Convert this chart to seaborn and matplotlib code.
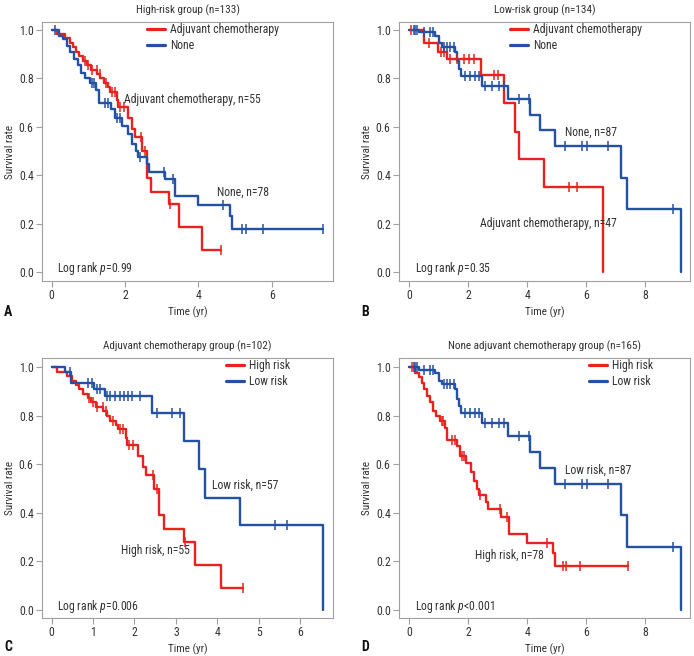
import numpy as np
import pandas as pd
import matplotlib
matplotlib.use("Agg")
import matplotlib.pyplot as plt
from matplotlib.ticker import FormatStrFormatter
import seaborn as sns

# high-risk, adjuvant chemotherapy (also "High risk" in panel C)
hr_adj_t = [0.14, 0.37, 0.50, 0.58, 0.66, 0.75, 0.87, 0.96, 1.07, 1.25, 1.33, 1.42, 1.55, 1.60,
            1.79, 1.81, 2.08, 2.20, 2.28, 2.47, 2.59, 2.72, 3.19, 3.46, 4.10]
hr_adj_s = [0.982, 0.964, 0.945, 0.927, 0.909, 0.891, 0.873, 0.855, 0.836, 0.818, 0.800, 0.780,
            0.762, 0.745, 0.710, 0.680, 0.635, 0.590, 0.556, 0.500, 0.390, 0.333, 0.280, 0.185, 0.092]
hr_adj_cens = [0.91, 1.00, 1.09, 1.23, 1.32, 1.48, 1.64, 1.73, 1.86, 1.97, 2.45, 2.55, 3.23, 4.63]

# high-risk, none (also "High risk" in panel D)
hr_none_t = [0.20, 0.32, 0.43, 0.51, 0.60, 0.71, 0.80, 0.92, 1.05, 1.22, 1.28, 1.62, 1.73, 1.93,
             2.09, 2.18, 2.29, 2.35, 2.60, 2.66, 3.10, 3.37, 3.99, 4.86, 4.92]
hr_none_s = [0.975, 0.960, 0.935, 0.910, 0.880, 0.855, 0.820, 0.800, 0.780, 0.750, 0.700, 0.675,
             0.635, 0.605, 0.570, 0.530, 0.500, 0.475, 0.445, 0.414, 0.384, 0.315, 0.277, 0.233, 0.180]
hr_none_cens = [0.09, 1.10, 1.15, 1.45, 1.55, 1.78, 1.86, 2.40, 3.06, 3.30, 4.67, 5.20, 5.31, 5.77, 7.41]

# low-risk, adjuvant chemotherapy (panel B)
lr_adj_t = [0.49, 0.96, 1.28, 2.43, 3.20, 3.57, 3.73, 4.55, 6.56]
lr_adj_s = [0.944, 0.910, 0.880, 0.813, 0.696, 0.580, 0.466, 0.350, 0.0]
lr_adj_cens = [0.06, 0.66, 1.07, 1.19, 1.39, 1.62, 1.84, 2.01, 2.18, 2.86, 3.02, 5.40, 5.68]

# low-risk, adjuvant chemotherapy (panel C, n=57)
lr_adj2_t = [0.32, 0.48, 1.03, 1.29, 2.42, 3.19, 3.55, 3.71, 4.54, 6.56]
lr_adj2_s = [0.980, 0.935, 0.910, 0.880, 0.810, 0.695, 0.580, 0.463, 0.350, 0.0]
lr_adj2_cens = [0.44, 0.88, 0.97, 1.09, 1.17, 1.33, 1.42, 1.54, 1.64, 1.74, 1.84, 1.95, 2.14,
                2.54, 2.90, 3.10, 5.40, 5.67]

# low-risk, none (panel B and "Low risk" in panel D)
lr_none_t = [0.32, 0.88, 0.99, 1.10, 1.56, 1.62, 1.67, 1.76, 2.46, 3.34, 4.10, 4.44, 4.93, 7.18, 7.36, 9.21]
lr_none_s = [0.990, 0.975, 0.944, 0.930, 0.910, 0.870, 0.840, 0.810, 0.770, 0.715, 0.650, 0.585,
             0.520, 0.390, 0.260, 0.0]
lr_none_cens = [0.15, 0.20, 0.26, 0.51, 0.69, 0.80, 1.16, 1.28, 1.39, 1.50, 1.90, 2.07, 2.24, 2.35,
                2.58, 2.80, 3.03, 3.20, 3.71, 4.05, 5.29, 5.85, 6.02, 6.72, 8.94]

titles = ["High-risk group (n=133)", "Low-risk group (n=134)",
          "Adjuvant chemotherapy group (n=102)", "None adjuvant chemotherapy group (n=165)"]
legend_labels = [["Adjuvant chemotherapy", "None"], ["Adjuvant chemotherapy", "None"],
                 ["High risk", "Low risk"], ["High risk", "Low risk"]]
pvals = ["=0.99", "=0.35", "=0.006", "<0.001"]
panel_letters = ["A", "B", "C", "D"]

RED = "#e8231e"
BLUE = "#2451a4"
GREY = "#a0a0a0"
TXT = "#333333"
FS = 8

sns.set_theme(style="white")
plt.rcParams["font.family"] = ["Roboto Condensed", "Roboto", "DejaVu Sans"]
plt.rcParams["mathtext.fontset"] = "custom"
plt.rcParams["mathtext.it"] = "Roboto Condensed:italic"
plt.rcParams["mathtext.rm"] = "Roboto Condensed"


def km_frame(times, surv, cens):
    end = max([times[-1]] + list(cens))
    t = [0.0] + list(times)
    s = [1.0] + list(surv)
    if end > times[-1]:
        t.append(end)
        s.append(surv[-1])
    return pd.DataFrame({"time": t, "surv": s})


def cens_frame(times, surv, cens):
    idx = np.searchsorted(times, cens, side="right") - 1
    s = np.where(idx >= 0, np.asarray(surv)[np.clip(idx, 0, None)], 1.0)
    return pd.DataFrame({"time": cens, "surv": s})


def draw_panel(ax, curves, labels):
    for (t, s, c), lab, col in zip(curves, labels, [RED, BLUE]):
        sns.lineplot(data=km_frame(t, s, c), x="time", y="surv", ax=ax, color=col, label=lab,
                     drawstyle="steps-post", estimator=None, sort=False, linewidth=1.7)
        sns.scatterplot(data=cens_frame(t, s, c), x="time", y="surv", ax=ax, color=col,
                        marker="|", s=42, linewidth=1.1, legend=False, zorder=3)


fig = plt.figure(figsize=(6.94, 6.56), dpi=100)
W, H = 694, 656
boxes = [(42, 22, 333, 281), (399, 22, 690, 281), (42, 358, 333, 618), (399, 358, 690, 618)]
axes = [fig.add_axes([l / W, 1 - b / H, (r - l) / W, (b - t) / H]) for l, t, r, b in boxes]

panel_curves = [
    [(hr_adj_t, hr_adj_s, hr_adj_cens), (hr_none_t, hr_none_s, hr_none_cens)],
    [(lr_adj_t, lr_adj_s, lr_adj_cens), (lr_none_t, lr_none_s, lr_none_cens)],
    [(hr_adj_t, hr_adj_s, hr_adj_cens), (lr_adj2_t, lr_adj2_s, lr_adj2_cens)],
    [(hr_none_t, hr_none_s, hr_none_cens), (lr_none_t, lr_none_s, lr_none_cens)],
]
xlims = [(-0.26, 7.67), (-0.35, 9.51), (-0.23, 6.79), (-0.35, 9.51)]
xticks = [[0, 2, 4, 6], [0, 2, 4, 6, 8], [0, 1, 2, 3, 4, 5, 6], [0, 2, 4, 6, 8]]
ylims = [(-0.036, 1.032), (-0.036, 1.032), (-0.033, 1.038), (-0.033, 1.038)]
leg_x = [0.361, 0.381, 0.632, 0.653]
# (x, y, text) annotations per panel
notes = [
    [(1.97, 0.714, "Adjuvant chemotherapy, n=55"), (4.50, 0.330, "None, n=78")],
    [(5.29, 0.577, "None, n=87"), (2.41, 0.200, "Adjuvant chemotherapy, n=47")],
    [(3.88, 0.512, "Low risk, n=57"), (1.67, 0.243, "High risk, n=55")],
    [(5.29, 0.577, "Low risk, n=87"), (2.22, 0.224, "High risk, n=78")],
]
p_x = [0.14, 0.18, 0.12, 0.18]
letter_pos = [(4, 312), (361, 312), (4, 647), (361, 647)]

for i, ax in enumerate(axes):
    draw_panel(ax, panel_curves[i], legend_labels[i])
    ax.set_xlim(*xlims[i])
    ax.set_ylim(*ylims[i])
    ax.set_xticks(xticks[i])
    ax.set_yticks([0, 0.2, 0.4, 0.6, 0.8, 1.0])
    ax.yaxis.set_major_formatter(FormatStrFormatter("%.1f"))
    for sp in ax.spines.values():
        sp.set_visible(True)
        sp.set_color(GREY)
        sp.set_linewidth(0.8)
    ax.tick_params(direction="out", length=4, width=0.8, color=GREY, labelsize=FS + 0.5,
                   labelcolor=TXT, left=True, bottom=True, pad=2)
    ax.set_title(titles[i], fontsize=FS, color=TXT, pad=6)
    ax.set_xlabel("Time (yr)", fontsize=FS, color=TXT, labelpad=3)
    ax.set_ylabel("Survival rate", fontsize=FS, color=TXT, labelpad=3)
    leg = ax.legend(loc="upper left", bbox_to_anchor=(leg_x[i], 0.995), frameon=False, fontsize=FS + 0.5,
                    handlelength=1.5, handletextpad=0.45, labelspacing=0.2, borderaxespad=0,
                    borderpad=0, labelcolor=TXT)
    for h in leg.get_lines():
        h.set_linewidth(2.3)
    for x, y, s in notes[i]:
        ax.text(x, y, s, fontsize=FS + 0.5, color=TXT, va="center", ha="left")
    ax.text(p_x[i], 0.014, "Log rank $p$" + pvals[i], fontsize=FS + 0.5, color=TXT, va="center", ha="left")
    lx, ly = letter_pos[i]
    fig.text(lx / W, 1 - ly / H, panel_letters[i], fontsize=10, fontweight="bold",
             color="#111111", va="center", ha="left")

fig.savefig("out.png", dpi=100)
